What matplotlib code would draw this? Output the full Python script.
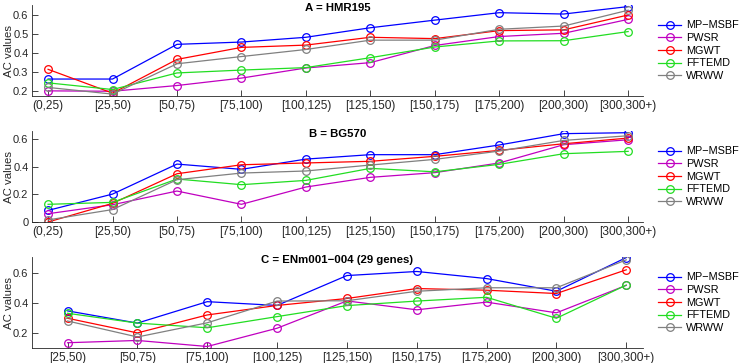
"""AC values per length bin for five methods on three datasets."""

import matplotlib
matplotlib.use("Agg")
import matplotlib.pyplot as plt
from matplotlib.ticker import FuncFormatter

plt.rcParams["font.family"] = ["Liberation Sans", "DejaVu Sans"]

methods = ["MP\u2212MSBF", "PWSR", "MGWT", "FFTEMD", "WRWW"]
colors = ["#0000ff", "#c000c0", "#ff0000", "#22dd22", "#808080"]

bins_ab = ["(0,25)", "[25,50)", "[50,75)", "[75,100)", "[100,125)",
           "[125,150)", "[150,175)", "[175,200)", "[200,300)", "[300,300+)"]
bins_c = bins_ab[1:]

# A = HMR195
hmr_mpmsbf = [0.264, 0.264, 0.446, 0.458, 0.483, 0.533, 0.573, 0.612, 0.605, 0.644]
hmr_pwsr = [0.202, 0.200, 0.230, 0.269, 0.322, 0.350, 0.440, 0.487, 0.504, 0.577]
hmr_mgwt = [0.315, 0.190, 0.367, 0.430, 0.442, 0.483, 0.476, 0.518, 0.522, 0.600]
hmr_fftemd = [0.244, 0.209, 0.296, 0.311, 0.324, 0.376, 0.432, 0.464, 0.465, 0.513]
hmr_wrww = [0.220, 0.185, 0.344, 0.382, 0.419, 0.468, 0.468, 0.525, 0.542, 0.625]

# B = BG570
bg_mpmsbf = [0.084, 0.202, 0.419, 0.381, 0.455, 0.487, 0.487, 0.557, 0.639, 0.646]
bg_pwsr = [0.060, 0.125, 0.224, 0.128, 0.253, 0.323, 0.357, 0.427, 0.559, 0.595]
bg_mgwt = [0.000, 0.135, 0.349, 0.414, 0.427, 0.439, 0.475, 0.518, 0.566, 0.607]
bg_fftemd = [0.128, 0.142, 0.311, 0.270, 0.301, 0.388, 0.363, 0.417, 0.494, 0.511]
bg_wrww = [0.015, 0.090, 0.306, 0.354, 0.369, 0.412, 0.453, 0.513, 0.590, 0.624]

# C = ENm001-004
enm_mpmsbf = [0.346, 0.265, 0.407, 0.382, 0.580, 0.607, 0.560, 0.476, 0.699]
enm_pwsr = [0.135, 0.150, 0.110, 0.231, 0.412, 0.353, 0.404, 0.333, 0.515]
enm_mgwt = [0.297, 0.200, 0.319, 0.382, 0.428, 0.494, 0.483, 0.461, 0.618]
enm_fftemd = [0.330, 0.265, 0.234, 0.308, 0.381, 0.411, 0.436, 0.297, 0.517]
enm_wrww = [0.279, 0.173, 0.267, 0.411, 0.413, 0.476, 0.499, 0.499, 0.684]

panels = [
    ("A = HMR195", bins_ab, [hmr_mpmsbf, hmr_pwsr, hmr_mgwt, hmr_fftemd, hmr_wrww],
     (0.175, 0.65), [0.2, 0.3, 0.4, 0.5, 0.6], (0.75, 10.23)),
    ("B = BG570", bins_ab, [bg_mpmsbf, bg_pwsr, bg_mgwt, bg_fftemd, bg_wrww],
     (0.0, 0.655), [0, 0.2, 0.4, 0.6], (0.75, 10.23)),
    ("C = ENm001\u2212004 (29 genes)", bins_c,
     [enm_mpmsbf, enm_pwsr, enm_mgwt, enm_fftemd, enm_wrww],
     (0.1, 0.7), [0.2, 0.4, 0.6], (0.49, 9.24)),
]

axis_color = "#262626"
fig = plt.figure(figsize=(7.4, 3.63), dpi=100)
bottoms = [0.7355, 0.3884, 0.0413]

for bottom, (title, bins, series, ylim, yticks, xlim) in zip(bottoms, panels):
    ax = fig.add_axes([0.0432, bottom, 0.8257, 0.2495])
    x = list(range(1, len(bins) + 1))
    for name, color, vals in zip(methods, colors, series):
        ax.plot(x, vals, color=color, lw=0.9, marker="o", ms=5.5,
                mfc="none", mec=color, mew=0.9, label=name)
    ax.set_xlim(*xlim)
    ax.set_ylim(*ylim)
    ax.set_xticks(x)
    ax.set_xticklabels(bins)
    ax.set_yticks(yticks)
    ax.yaxis.set_major_formatter(FuncFormatter(lambda v, _: f"{v:g}"))
    ax.tick_params(direction="in", length=4, width=0.6,
                   colors=axis_color, pad=3)
    ax.tick_params(axis="x", labelsize=8.6)
    ax.tick_params(axis="y", labelsize=8, pad=2.5)
    for side in ("top", "right"):
        ax.spines[side].set_visible(False)
    for side in ("left", "bottom"):
        ax.spines[side].set_color(axis_color)
        ax.spines[side].set_linewidth(0.6)
    ax.set_ylabel("AC values", fontsize=8.2, color=axis_color)
    ax.yaxis.set_label_coords(-0.029, 0.5)
    ax.text(0.5, 0.975, title, transform=ax.transAxes, ha="center",
            va="center", fontsize=8.2, fontweight="bold", color="black")
    ax.legend(loc="center left", bbox_to_anchor=(1.024, 0.5), frameon=False,
              borderpad=0, borderaxespad=0, fontsize=7.8, handlelength=2.2,
              handletextpad=0.45, labelspacing=0.25)

fig.savefig("out.png", dpi=100)
